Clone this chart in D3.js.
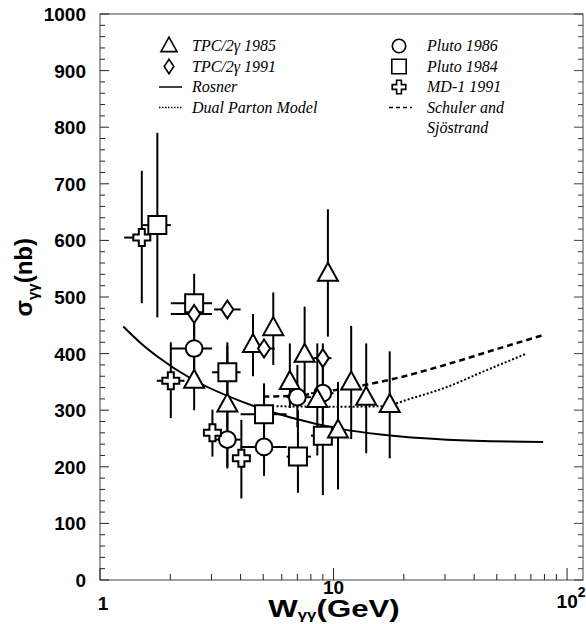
<!DOCTYPE html>
<html>
<head>
<meta charset="utf-8">
<script src="https://cdn.jsdelivr.net/npm/d3@7"></script>
<style>
  body { margin: 0; background: #fff; }
  svg { display: block; }
  .tick-label { font-family: "Liberation Sans", Arial, sans-serif; font-weight: bold; font-size: 19px; }
  .axis-title { font-family: "Liberation Sans", Arial, sans-serif; font-weight: bold; font-size: 24px; }
  .legend { font-family: "Liberation Serif", "Times New Roman", serif; font-style: italic; font-size: 16px; }
</style>
</head>
<body>
<div id="chart"></div>
<script>
// data: [W, sigma, Wlo, Whi, sigLo, sigHi]
const tpc1985 = [
  [2.53, 352, null, null, 300, 420],
  [3.51, 310, null, null, 200, 420],
  [4.52, 415, null, null, 360, 470],
  [5.52, 445, null, null, 380, 508],
  [6.5, 350, null, null, 304, 418],
  [7.52, 398, null, null, 320, 483],
  [8.52, 318, null, null, 220, 418],
  [9.46, 541, null, null, 430, 655],
  [10.45, 264, null, null, 160, 350],
  [11.9, 349, null, null, 249, 449],
  [13.8, 322, null, null, 224, 418],
  [17.4, 309, null, null, 215, 404]
];
const tpc1991 = [
  [2.53, 470, 2.01, 3.02, 460, 480],
  [3.51, 478, 3.08, 4.0, 470, 486],
  [5.04, 409, 4.5, 5.6, 400, 418],
  [9.0, 392, 8.2, 9.8, 384, 400]
];
const pluto1986 = [
  [2.53, 409, 2.01, 3.02, 360, 470],
  [3.51, 248, 3.02, 4.0, 197, 300],
  [5.04, 235, 4.0, 6.3, 184, 347],
  [7.0, 323, 6.3, 8.0, 270, 380],
  [9.0, 330, 8.0, 10.0, 280, 392]
];
const pluto1984 = [
  [1.76, 627, 1.52, 2.01, 464, 790],
  [2.53, 489, 2.01, 3.02, 420, 541],
  [3.51, 367, 3.02, 4.0, 310, 415],
  [5.04, 293, 4.0, 6.3, 235, 347],
  [7.04, 218, 6.3, 8.0, 154, 300],
  [9.0, 255, 8.0, 10.0, 150, 418]
];
const md1991 = [
  [1.51, 605, 1.27, 1.62, 489, 723],
  [2.01, 352, 1.75, 2.3, 286, 420],
  [3.03, 260, 2.8, 3.2, 218, 301],
  [4.03, 215, 3.8, 4.3, 144, 283]
];
const rosner = [[1.258, 448], [1.5, 418], [1.76, 395], [2.45, 356], [4.0, 316], [6.55, 287], [10.7, 267], [15.9, 257], [30.6, 248], [79, 244]];
const schuler = [[5.0, 324], [7, 326], [10, 335], [17.5, 354], [30.6, 381], [50, 408], [78, 432]];
const dpm = [[5.7, 307], [10, 306], [16, 307], [22, 322], [30.6, 341], [42.5, 366], [67, 400]];

const yTicks = [0, 100, 200, 300, 400, 500, 600, 700, 800, 900, 1000];
const xTicks = [1, 10, 100];

const width = 586, height = 624;
const pLeft = 100, pRight = 583, pTop = 14, pBottom = 580;

const x = d3.scaleLog().domain([1, 117]).range([pLeft, pRight]);
const y = d3.scaleLinear().domain([0, 1000]).range([pBottom, pTop]);

const svg = d3.select("#chart").append("svg")
  .attr("width", width).attr("height", height);

// frame
svg.append("rect")
  .attr("x", pLeft).attr("y", pTop)
  .attr("width", pRight - pLeft).attr("height", pBottom - pTop)
  .attr("fill", "none").attr("stroke", "#444").attr("stroke-width", 1);

// y ticks (minor every 20)
const yMinor = d3.range(0, 1001, 20);
svg.selectAll(".ytick").data(yMinor).enter().append("line")
  .attr("x1", pLeft).attr("x2", d => pLeft + (d % 100 === 0 ? 9 : 5))
  .attr("y1", d => y(d)).attr("y2", d => y(d))
  .attr("stroke", "#222");
svg.selectAll(".ytickR").data(yMinor).enter().append("line")
  .attr("x1", pRight).attr("x2", d => pRight - (d % 100 === 0 ? 9 : 5))
  .attr("y1", d => y(d)).attr("y2", d => y(d))
  .attr("stroke", "#444");
svg.selectAll(".ylab").data(yTicks).enter().append("text")
  .attr("class", "tick-label")
  .attr("x", pLeft - 14).attr("y", d => y(d) + 7)
  .attr("text-anchor", "end")
  .text(d => d);

// x ticks
const xMinor = [];
[1, 10].forEach(b => d3.range(1, 10).forEach(k => xMinor.push(b * k)));
xMinor.push(100);
svg.selectAll(".xtick").data(xMinor).enter().append("line")
  .attr("x1", d => x(d)).attr("x2", d => x(d))
  .attr("y1", pBottom).attr("y2", d => pBottom - (xTicks.includes(d) ? 12 : 6))
  .attr("stroke", "#222");
svg.append("text").attr("class", "tick-label")
  .attr("x", x(1) + 3).attr("y", pBottom + 30).attr("text-anchor", "middle").text("1");
svg.append("text").attr("class", "tick-label")
  .attr("x", x(10)).attr("y", pBottom + 14).attr("text-anchor", "middle").text("10");
const t100 = svg.append("text").attr("class", "tick-label")
  .attr("x", x(100) + 4).attr("y", pBottom + 28).attr("text-anchor", "middle");
t100.append("tspan").text("10");
t100.append("tspan").attr("dy", -11).attr("font-size", 14).text("2");

// axis titles
const xt = svg.append("text").attr("class", "axis-title")
  .attr("transform", "translate(334, 617) scale(1.3, 1)")
  .attr("font-size", 20)
  .attr("text-anchor", "middle");
xt.append("tspan").text("W");
xt.append("tspan").attr("dy", 2).attr("font-size", 13).text("γγ");
xt.append("tspan").attr("dy", -2).text("(GeV)");

const yt = svg.append("text").attr("class", "axis-title")
  .attr("transform", `translate(32, ${y(535)}) rotate(-90)`)
  .attr("text-anchor", "middle");
yt.append("tspan").text("σ");
yt.append("tspan").attr("dy", 6).attr("font-size", 15).text("γγ");
yt.append("tspan").attr("dy", -6).text("(nb)");

// theory curves
const line = d3.line().x(d => x(d[0])).y(d => y(d[1])).curve(d3.curveMonotoneX);
svg.append("path").datum(rosner).attr("d", line)
  .attr("fill", "none").attr("stroke", "#000").attr("stroke-width", 2);
svg.append("path").datum(schuler).attr("d", line)
  .attr("fill", "none").attr("stroke", "#000").attr("stroke-width", 2.5)
  .attr("stroke-dasharray", "6,4");
svg.append("path").datum(dpm).attr("d", line)
  .attr("fill", "none").attr("stroke", "#000").attr("stroke-width", 2)
  .attr("stroke-dasharray", "2,2");

// error bars
function errorBars(data) {
  const g = svg.append("g").attr("stroke", "#000").attr("stroke-width", 2);
  data.forEach(d => {
    if (d[4] != null) g.append("line")
      .attr("x1", x(d[0])).attr("x2", x(d[0]))
      .attr("y1", y(d[4])).attr("y2", y(d[5]));
    if (d[2] != null) g.append("line")
      .attr("x1", x(d[2])).attr("x2", x(d[3]))
      .attr("y1", y(d[1])).attr("y2", y(d[1]));
  });
}
[tpc1985, tpc1991, pluto1986, pluto1984, md1991].forEach(errorBars);

// marker shapes
const shapes = {
  triangle: "M0,-11L10,7L-10,7Z",
  diamond: "M0,-9L6,0L0,9L-6,0Z",
  circle: d3.symbol(d3.symbolCircle, 220)(),
  square: "M-9,-9H9V9H-9Z",
  cross: "M-3,-8.5H3V-3H8.5V3H3V8.5H-3V3H-8.5V-3H-3Z"
};
function markers(data, shape) {
  svg.append("g").selectAll("path").data(data).enter().append("path")
    .attr("d", shapes[shape])
    .attr("transform", d => `translate(${x(d[0])},${y(d[1])})`)
    .attr("fill", "#fff").attr("stroke", "#000").attr("stroke-width", 2);
}
markers(pluto1984, "square");
markers(pluto1986, "circle");
markers(md1991, "cross");
markers(tpc1985, "triangle");
markers(tpc1991, "diamond");

// legend
const legLeft = [
  { label: "TPC/2γ 1985", shape: "triangle" },
  { label: "TPC/2γ 1991", shape: "diamond" },
  { label: "Rosner", dash: null },
  { label: "Dual Parton Model", dash: "1.5,1.5" }
];
const legRight = [
  { label: "Pluto 1986", shape: "circle" },
  { label: "Pluto 1984", shape: "square" },
  { label: "MD-1 1991", shape: "cross" },
  { label: "Schuler and", dash: "4,3" },
  { label: "Sjöstrand" }
];
function legend(items, sx, tx) {
  items.forEach((it, i) => {
    const ly = 46 + i * 20.5;
    if (it.shape) {
      svg.append("path").attr("d", shapes[it.shape])
        .attr("transform", `translate(${sx},${ly}) scale(0.8)`)
        .attr("fill", "#fff").attr("stroke", "#000").attr("stroke-width", 2);
    } else if (it.dash !== undefined) {
      svg.append("line").attr("x1", sx - 10).attr("x2", sx + 13)
        .attr("y1", ly).attr("y2", ly)
        .attr("stroke", "#000").attr("stroke-width", 1.5)
        .attr("stroke-dasharray", it.dash);
    }
    svg.append("text").attr("class", "legend")
      .attr("x", tx).attr("y", ly + 5).text(it.label);
  });
}
legend(legLeft, 169, 192);
legend(legRight, 399, 427);
</script>
</body>
</html>
